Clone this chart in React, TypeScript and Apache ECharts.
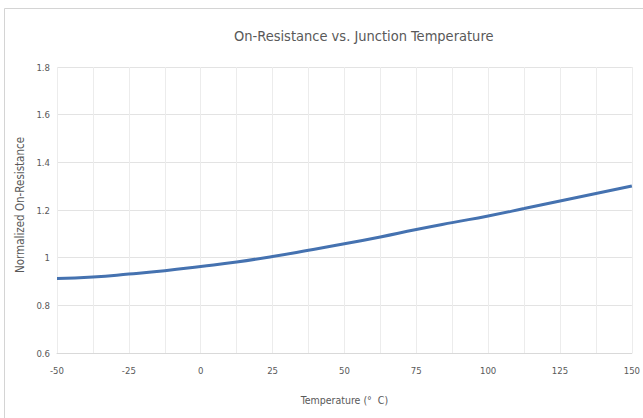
import React, { useEffect, useRef } from "react";
import * as echarts from "echarts";

const temperatures = [-50, -37.5, -25, -12.5, 0, 12.5, 25, 37.5, 50, 62.5, 75, 87.5, 100, 112.5, 125, 137.5, 150];
const resistance = [0.913, 0.919, 0.931, 0.945, 0.963, 0.982, 1.005, 1.031, 1.058, 1.087, 1.118, 1.147, 1.175, 1.206, 1.238, 1.269, 1.301];

const titleText = "On-Resistance vs. Junction Temperature";
const xName = "Temperature (°  C)";
const yName = "Normalized On-Resistance";

const FONT = "'DejaVu Sans Condensed', 'Open Sans', sans-serif";

export default function App() {
  const ref = useRef<HTMLDivElement>(null);
  useEffect(() => {
    if (!ref.current) return;
    const chart = echarts.init(ref.current, undefined, { renderer: "svg" });
    chart.setOption({
      animation: false,
      backgroundColor: "#ffffff",
      title: {
        text: titleText,
        left: 229,
        top: 23,
        textStyle: { fontFamily: FONT, fontSize: 14.5, fontWeight: "normal", color: "#595959" },
      },
      graphic: [
        {
          type: "rect",
          shape: { x: 4.5, y: 8.5, width: 700, height: 450 },
          style: { fill: "none", stroke: "#d4d4d4", lineWidth: 1 },
          silent: true,
        },
      ],
      grid: { left: 57, right: 10, top: 67, bottom: 65 },
      xAxis: {
        type: "value",
        min: -50,
        max: 150,
        interval: 12.5,
        name: xName,
        nameLocation: "middle",
        nameGap: 41,
        nameTextStyle: { fontFamily: FONT, fontSize: 10.5, color: "#595959" },
        axisLine: { show: true, lineStyle: { color: "#d9d9d9" } },
        axisTick: { show: false },
        axisLabel: {
          fontFamily: FONT,
          fontSize: 9.5,
          color: "#595959",
          margin: 12,
          formatter: (v: number) => (v % 25 === 0 ? String(v) : ""),
        },
        splitLine: { show: true, lineStyle: { color: "#ececec", width: 1 } },
      },
      yAxis: {
        type: "value",
        min: 0.6,
        max: 1.8,
        interval: 0.2,
        name: yName,
        nameLocation: "middle",
        nameGap: 27,
        nameTextStyle: { fontFamily: FONT, fontSize: 11.5, color: "#595959", padding: [0, 0, 0, 10] },
        axisLine: { show: false },
        axisTick: { show: false },
        axisLabel: { fontFamily: FONT, fontSize: 9.5, color: "#595959", margin: 7 },
        splitLine: { show: true, lineStyle: { color: "#e3e3e3", width: 1 } },
      },
      series: [
        {
          type: "line",
          data: temperatures.map((t, i) => [t, resistance[i]]),
          smooth: true,
          showSymbol: false,
          lineStyle: { color: "#4572b0", width: 3 },
        },
      ],
    });
    return () => chart.dispose();
  }, []);
  return (
    <div
      ref={ref}
      style={{ position: "fixed", left: 0, top: 0, width: 643, height: 418 }}
    />
  );
}
